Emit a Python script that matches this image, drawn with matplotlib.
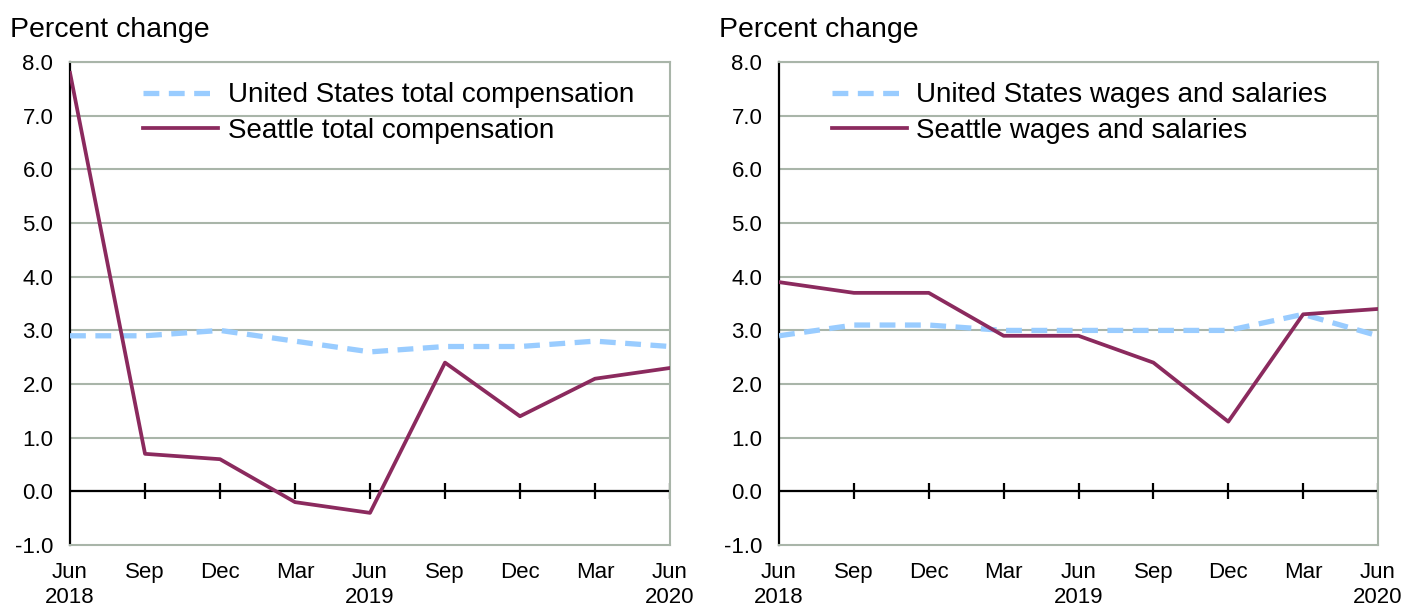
import matplotlib
matplotlib.use("Agg")
import matplotlib.pyplot as plt

plt.rcParams['font.family'] = ['Liberation Sans', 'DejaVu Sans']

quarters = ["Jun\n2018", "Sep", "Dec", "Mar", "Jun\n2019", "Sep", "Dec", "Mar", "Jun\n2020"]

us_total_comp = [2.9, 2.9, 3.0, 2.8, 2.6, 2.7, 2.7, 2.8, 2.7]
seattle_total_comp = [7.8, 0.7, 0.6, -0.2, -0.4, 2.4, 1.4, 2.1, 2.3]

us_wages = [2.9, 3.1, 3.1, 3.0, 3.0, 3.0, 3.0, 3.3, 2.9]
seattle_wages = [3.9, 3.7, 3.7, 2.9, 2.9, 2.4, 1.3, 3.3, 3.4]

yticks = [-1, 0, 1, 2, 3, 4, 5, 6, 7, 8]

US_COLOR = '#99ccff'
SEA_COLOR = '#8b2a5e'
GRID_COLOR = '#a9b5a9'


def draw_panel(ax, us, sea, us_label, sea_label, legend_x):
    x = list(range(len(quarters)))
    for y in yticks[1:]:
        ax.axhline(y, color=GRID_COLOR, linewidth=1.5, zorder=1)
    ax.plot(x, us, color=US_COLOR, linewidth=3.8, dashes=(3, 1.8),
            label=us_label, zorder=3)
    ax.plot(x, sea, color=SEA_COLOR, linewidth=2.7, label=sea_label, zorder=4)

    # zero line with tick marks across it
    ax.axhline(0, color='black', linewidth=1.6, zorder=2)
    ax.vlines(x[1:], -0.15, 0.15, color='black', linewidth=1.6, zorder=2)

    ax.set_xlim(0, len(quarters) - 1)
    ax.set_ylim(-1, 8)
    ax.set_xticks(x)
    ax.set_xticklabels(quarters, fontsize=16, linespacing=1.25)
    ax.set_yticks(yticks)
    ax.set_yticklabels([f"{v:.1f}" for v in yticks], fontsize=16)
    ax.tick_params(axis='both', length=0)
    ax.tick_params(axis='x', pad=12)
    ax.tick_params(axis='y', pad=12)

    for side in ['top', 'right', 'bottom']:
        ax.spines[side].set_color(GRID_COLOR)
        ax.spines[side].set_linewidth(1.5)
    ax.spines['left'].set_color('black')
    ax.spines['left'].set_linewidth(1.6)

    ax.legend(loc='upper left', bbox_to_anchor=(legend_x, 0.958), frameon=False,
              fontsize=20, handlelength=2.7, handletextpad=0.35,
              labelspacing=0.35, borderpad=0, borderaxespad=0)
    ax.text(-0.1, 1.066, "Percent change", transform=ax.transAxes,
            fontsize=20.5, ha='left', va='center')


fig = plt.figure(figsize=(14.09, 6.09), dpi=100)
ax1 = fig.add_axes([0.0497, 0.105, 0.4258, 0.793])
ax2 = fig.add_axes([0.5529, 0.105, 0.4251, 0.793])

draw_panel(ax1, us_total_comp, seattle_total_comp,
           "United States total compensation", "Seattle total compensation", 0.122)
draw_panel(ax2, us_wages, seattle_wages,
           "United States wages and salaries", "Seattle wages and salaries", 0.088)

fig.savefig("out.png", dpi=100)
